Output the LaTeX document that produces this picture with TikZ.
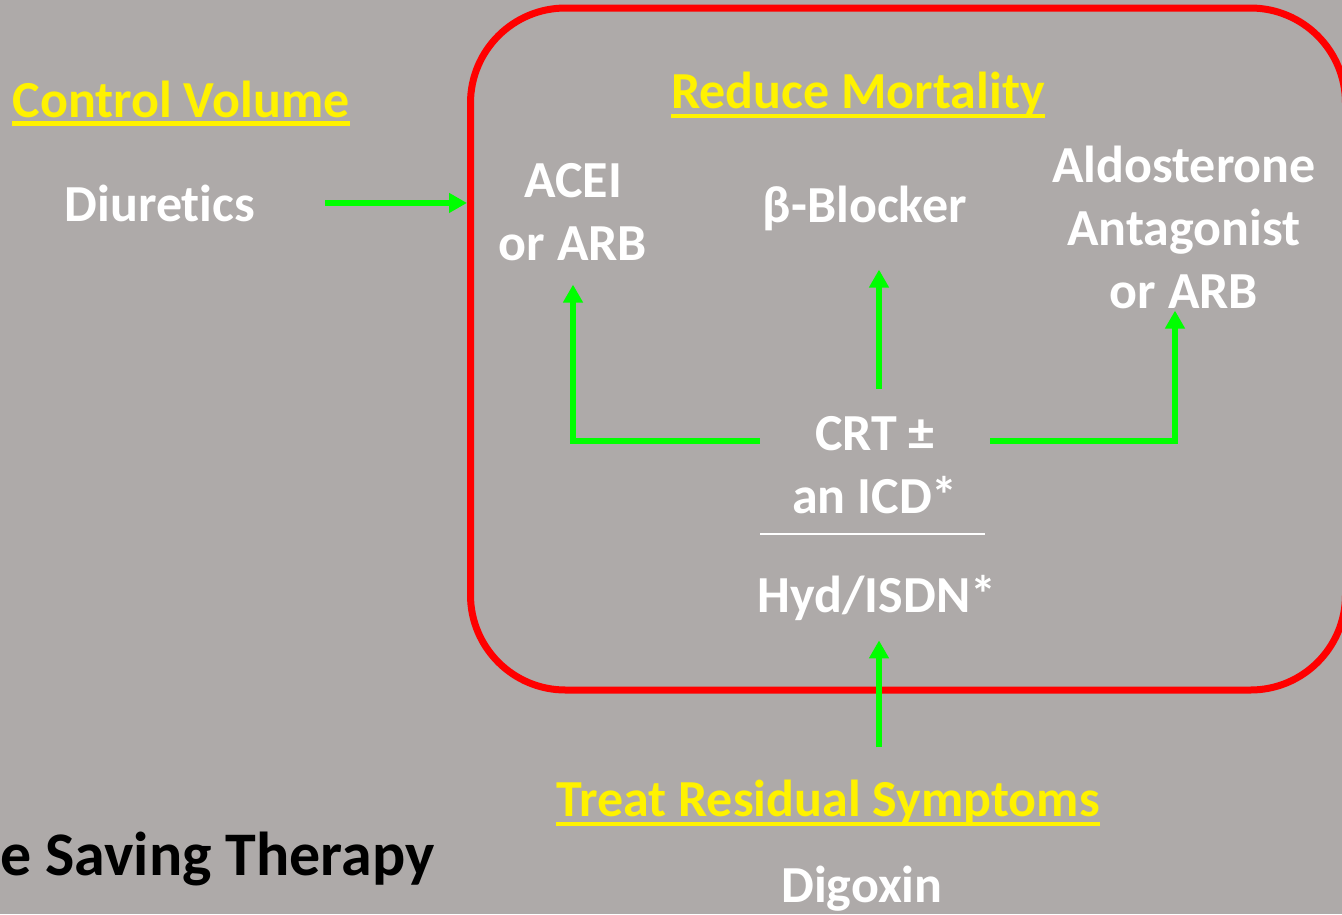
\documentclass[tikz,border=0pt]{standalone}
\usepackage{fontspec}
\setmainfont{Carlito}[Ligatures=NoCommon]
\usetikzlibrary{arrows.meta,positioning}
\definecolor{slidegray}{RGB}{174,170,169}
\definecolor{flowgreen}{RGB}{0,255,0}
\tikzset{drug/.style = {text=white, align=center, inner sep=0pt, anchor=base,
    font=\fontsize{52}{63}\selectfont\bfseries},
  heading/.style = {drug, text=yellow},
  uline/.style = {draw=yellow, line width=4.5pt},
  flow/.style = {draw=flowgreen, line width=6pt,
    -{Triangle[length=18pt,width=19pt]}}}

\begin{document}
\begin{tikzpicture}[x=1pt, y=-1pt]
      \fill[slidegray] (0,0) rectangle (1342,914);
      \useasboundingbox (0,0) rectangle (1342,914);
      \begin{scope}
        \clip (0,0) rectangle (1342,914);
        \node[draw=red, line width=7pt, rounded corners=95pt,
          minimum width=875pt, minimum height=682pt] (box) at (908,349) {};
      \end{scope}
      % left column
      \node[heading] (ctrl) at (181,117) {Control Volume};
      \draw[uline] ([yshift=-6.5pt]ctrl.base west) -- ([yshift=-6.5pt]ctrl.base east);
      \node[drug] (diur) at (160,221) {Diuretics};
      \draw[flow] ([xshift=70pt]diur.east) -- (diur.east -| box.west);
      \node[drug, text=black, anchor=base west,
        font=\fontsize{62}{74}\selectfont\bfseries] (life) at (0,875) {e Saving Therapy};
      % inside the box
      \node[heading] (mort) at (858,108) {Reduce Mortality};
      \draw[uline] ([yshift=-8pt]mort.base west) -- ([yshift=-8pt]mort.base east);
      \node[drug] (acei) at (573,260) {ACEI\\or ARB};
      \node[drug] (beta) at (865,222) {β-Blocker};
      \node[drug] (ald) at (1184,308) {Aldosterone\\Antagonist\\or ARB};
      \node[drug, minimum width=230pt] (crt) at (875,450) {CRT ±};
      \node[drug] (icd) at (875,513) {an ICD*};
      \draw[white, line width=2pt] (760,534) -- (985,534);
      \node[drug] (hyd) at (877,612) {Hyd/ISDN*};
      \draw[flow] ([yshift=-8pt]crt.west) -| ([yshift=-24pt]acei.south);
      \draw[flow] ([xshift=4pt,yshift=27pt]crt.north) -- ([xshift=4pt,yshift=-39pt]crt.north |- beta.south);
      \draw[flow] ([yshift=-8pt]crt.east) -| ([xshift=-9pt,yshift=-2pt]ald.south);
      % below the box
      \node[heading] (treat) at (828,816) {Treat Residual Symptoms};
      \draw[uline] ([yshift=-8pt]treat.base west) -- ([yshift=-8pt]treat.base east);
      \node[drug] (dig) at (862,902) {Digoxin};
      \draw[flow] ([xshift=2pt,yshift=32pt]hyd.south |- treat.north) -- ([xshift=2pt,yshift=-20pt]hyd.south);
    \end{tikzpicture}
\end{document}
